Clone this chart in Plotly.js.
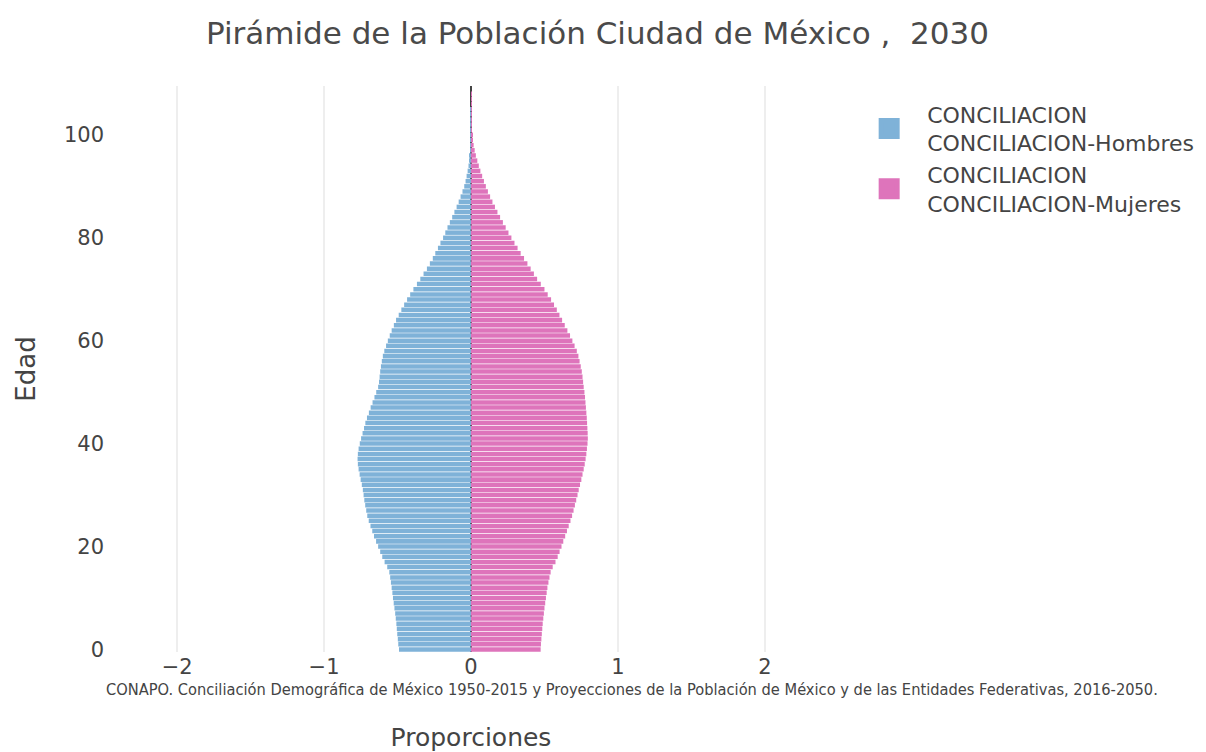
<!DOCTYPE html>
<html>
<head>
<meta charset="utf-8">
<script src="https://cdn.plot.ly/plotly-3.0.1.min.js"></script>
<style>html,body{margin:0;padding:0;background:#fff;}#chart{width:1206px;height:752px;}</style>
</head>
<body>
<div id="chart"></div>
<script>
// Ages (single years)
const edades = [];
for (let i = 0; i <= 109; i++) edades.push(i);

// Proportions (%) — men (plotted to the left)
const hombres = [
  0.490, 0.495, 0.498, 0.502, 0.505, 0.508, 0.512, 0.516, 0.521, 0.526,
  0.531, 0.535, 0.540, 0.545, 0.550, 0.556, 0.570, 0.588, 0.604, 0.618,
  0.632, 0.646, 0.660, 0.672, 0.684, 0.696, 0.706, 0.713, 0.720, 0.726,
  0.731, 0.736, 0.743, 0.751, 0.758, 0.765, 0.770, 0.772, 0.770, 0.765,
  0.757, 0.748, 0.738, 0.728, 0.719, 0.708, 0.695, 0.683, 0.670, 0.657,
  0.645, 0.632, 0.626, 0.622, 0.618, 0.613, 0.607, 0.600, 0.590, 0.578,
  0.566, 0.553, 0.540, 0.525, 0.510, 0.492, 0.474, 0.455, 0.435, 0.414,
  0.392, 0.368, 0.345, 0.323, 0.300, 0.280, 0.260, 0.243, 0.225, 0.208,
  0.190, 0.175, 0.160, 0.144, 0.128, 0.113, 0.098, 0.084, 0.071, 0.058,
  0.046, 0.037, 0.030, 0.023, 0.017, 0.012, 0.008, 0.005, 0.003, 0.002,
  0.001, 0.0006, 0.0004, 0.0002, 0.0001, 0.0001, 0.0, 0.0, 0.0, 0.0
];

// Women (plotted to the right)
const mujeres = [
  0.474, 0.476, 0.479, 0.482, 0.485, 0.488, 0.492, 0.496, 0.500, 0.505,
  0.510, 0.515, 0.520, 0.527, 0.534, 0.542, 0.556, 0.575, 0.590, 0.603,
  0.616, 0.628, 0.641, 0.653, 0.665, 0.677, 0.688, 0.698, 0.707, 0.716,
  0.725, 0.733, 0.742, 0.751, 0.759, 0.767, 0.774, 0.780, 0.785, 0.789,
  0.793, 0.795, 0.794, 0.792, 0.790, 0.788, 0.785, 0.782, 0.779, 0.776,
  0.772, 0.767, 0.763, 0.759, 0.754, 0.747, 0.739, 0.731, 0.720, 0.705,
  0.690, 0.674, 0.656, 0.638, 0.620, 0.602, 0.584, 0.565, 0.545, 0.522,
  0.500, 0.475, 0.450, 0.428, 0.406, 0.384, 0.361, 0.338, 0.317, 0.296,
  0.275, 0.255, 0.236, 0.217, 0.198, 0.180, 0.163, 0.146, 0.130, 0.115,
  0.101, 0.088, 0.076, 0.064, 0.053, 0.043, 0.033, 0.025, 0.018, 0.012,
  0.008, 0.005, 0.003, 0.002, 0.001, 0.0006, 0.0003, 0.0002, 0.0001, 0.0
];

const nombres = ["CONCILIACION<br>CONCILIACION-Hombres", "CONCILIACION<br>CONCILIACION-Mujeres"];
const colores = ["#7fb2d8", "#de74bb"];
const xTicks = [-2, -1, 0, 1, 2];
const yTicks = [0, 20, 40, 60, 80, 100];
const titulo = "Pirámide de la Población Ciudad de México ,\u00a0 2030";
const fuente = "CONAPO. Conciliación Demográfica de México 1950-2015 y Proyecciones de la Población de México y de las Entidades Federativas, 2016-2050.";

const traces = [
  {
    type: "bar", orientation: "h",
    y: edades, x: hombres.map(v => -v),
    name: nombres[0], legendgroup: "h", showlegend: false,
    marker: { color: colores[0] },
    hovertext: hombres.map(v => v.toFixed(3)), hoverinfo: "y+text"
  },
  {
    type: "bar", orientation: "h",
    y: edades, x: mujeres,
    name: nombres[1], legendgroup: "m", showlegend: false,
    marker: { color: colores[1] },
    hovertext: mujeres.map(v => v.toFixed(3)), hoverinfo: "y+text"
  },
  // legend entries (larger square swatches, as in the original)
  {
    type: "scatter", mode: "markers", x: [null], y: [null],
    name: nombres[0], legendgroup: "h", hoverinfo: "skip",
    marker: { symbol: "square", size: 16, color: colores[0], line: { color: colores[0], width: 5 } }
  },
  {
    type: "scatter", mode: "markers", x: [null], y: [null],
    name: nombres[1], legendgroup: "m", hoverinfo: "skip",
    marker: { symbol: "square", size: 16, color: colores[1], line: { color: colores[1], width: 5 } }
  }
];

const FONT = "'DejaVu Sans', Verdana, sans-serif";

const layout = {
  width: 1206, height: 752,
  paper_bgcolor: "#fff", plot_bgcolor: "#fff",
  font: { family: FONT, color: "#444", size: 20 },
  title: { text: titulo, font: { size: 31, color: "#4a4a4a" }, x: 0.4954, xanchor: "center", y: 0.956, yanchor: "middle" },
  barmode: "relative",
  bargap: 0.12,
  showlegend: true,
  margin: { l: 111, r: 375, t: 86, b: 99.5, pad: 0, autoexpand: false },
  xaxis: {
    range: [-2.45, 2.45],
    tickvals: xTicks,
    ticktext: xTicks.map(v => v < 0 ? "\u2212" + Math.abs(v) : String(v)),
    showgrid: true, gridcolor: "#eeeeee", gridwidth: 2,
    zeroline: true, zerolinecolor: "#444", zerolinewidth: 2,
    layer: "above traces",
    tickfont: { size: 21 },
    title: { text: "Proporciones", font: { size: 25 }, standoff: 51 }
  },
  yaxis: {
    range: [-0.5, 109.5],
    tickvals: yTicks,
    showgrid: false, zeroline: false,
    tickfont: { size: 21 },
    ticklabelstandoff: 6,
    title: { text: "Edad", font: { size: 26 }, standoff: 20 }
  },
  legend: {
    x: 1.028, y: 0.987, xanchor: "left", yanchor: "top",
    font: { size: 22, color: "#444" },
    itemwidth: 66, tracegroupgap: 0
  },
  annotations: [{
    text: fuente, xref: "paper", yref: "paper",
    x: -0.01, y: -0.066, xanchor: "left", yanchor: "middle",
    showarrow: false,
    font: { size: 16.3, color: "#444", family: "'DejaVu Sans Condensed', 'DejaVu Sans', sans-serif" }
  }]
};

Plotly.newPlot("chart", traces, layout, { displayModeBar: false });
</script>
</body>
</html>
